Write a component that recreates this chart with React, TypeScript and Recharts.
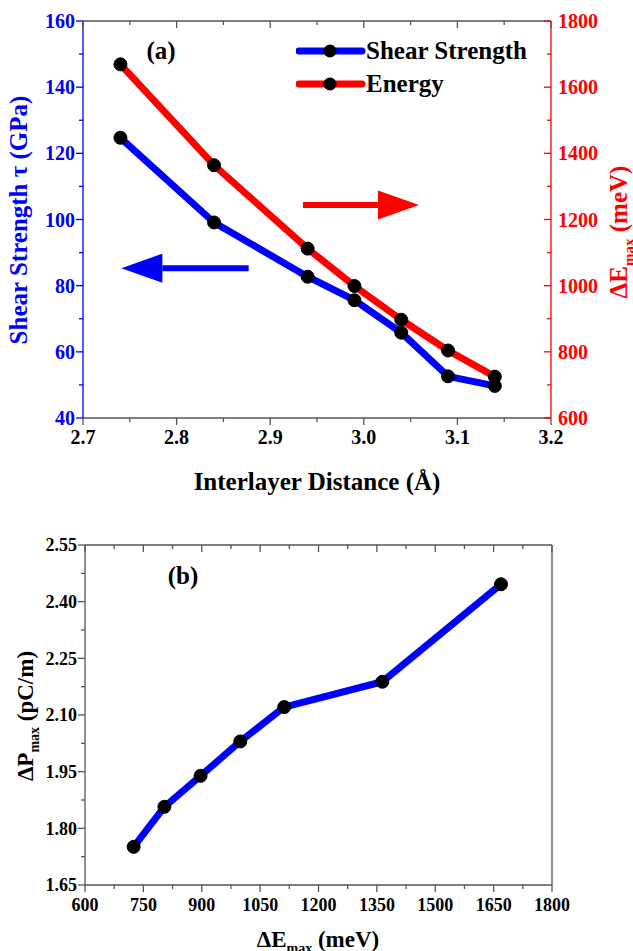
import React from 'react';
import { LineChart, Line, XAxis, YAxis, ReferenceLine, Legend } from 'recharts';

// (a) interlayer distance vs shear strength / energy barrier
const distance = [2.74, 2.84, 2.94, 2.99, 3.04, 3.09, 3.14];
const shearStrength = [124.7, 99.1, 82.7, 75.6, 65.8, 52.6, 49.7];
const energyMax = [1669, 1364, 1112, 999, 897, 804, 725];
// (b) polarization vs energy barrier (same order as energyMax)
const polarMax = [2.446, 2.188, 2.121, 2.03, 1.939, 1.857, 1.751];

const distTicks = [2.7, 2.8, 2.9, 3.0, 3.1, 3.2];
const distMinor = [2.75, 2.85, 2.95, 3.05, 3.15];
const shearTicks = [40, 60, 80, 100, 120, 140, 160];
const shearMinor = [50, 70, 90, 110, 130, 150];
const energyTicks = [600, 800, 1000, 1200, 1400, 1600, 1800];
const energyMinor = [700, 900, 1100, 1300, 1500, 1700];
const eTicksB = [600, 750, 900, 1050, 1200, 1350, 1500, 1650, 1800];
const eMinorB = [675, 825, 975, 1125, 1275, 1425, 1575, 1725];
const pTicks = [1.65, 1.8, 1.95, 2.1, 2.25, 2.4, 2.55];
const pMinor = [1.725, 1.875, 2.025, 2.175, 2.325, 2.475];
const legendOrder = ['Shear Strength', 'Energy'];

const FONT = '"Liberation Serif", "Times New Roman", serif';
const BLUE = '#0000ff';
const RED = '#ff0000';
const GREY = '#555555';

const topData = distance.map((d, i) => ({ d, tau: shearStrength[i], e: energyMax[i] }));
const bottomData = energyMax.map((e, i) => ({ e, p: polarMax[i] }));

type Side = 'bottom' | 'top' | 'left' | 'right';
interface TickOpt {
  side: Side;
  inward: boolean;
  majors: number[];
  color: string;
  lineColor: string;
  size?: number;
  fmt?: (v: number) => string;
}

// draws major/minor tick marks by hand (recharts has no minor ticks)
const makeTick = (o: TickOpt) => (props: any) => {
  const { x, y, payload } = props;
  const v = payload.value;
  const major = o.majors.some(m => Math.abs(m - v) < 1e-9);
  const len = major ? 7 : 4;
  let dx = 0;
  let dy = 0;
  if (o.side === 'bottom') dy = o.inward ? -len : len;
  if (o.side === 'top') dy = o.inward ? len : -len;
  if (o.side === 'left') dx = o.inward ? len : -len;
  if (o.side === 'right') dx = o.inward ? -len : len;
  const textStyle = { fontFamily: FONT, fontWeight: 'bold' as const, fontSize: o.size || 18, fill: o.color };
  let label = null;
  if (o.fmt && major) {
    if (o.side === 'bottom') {
      label = <text x={x} y={y + 26} textAnchor="middle" style={textStyle}>{o.fmt(v)}</text>;
    } else if (o.side === 'left') {
      label = <text x={x - 8} y={y} dy="0.35em" textAnchor="end" style={textStyle}>{o.fmt(v)}</text>;
    } else if (o.side === 'right') {
      label = <text x={x + 7} y={y} dy="0.35em" textAnchor="start" style={textStyle}>{o.fmt(v)}</text>;
    }
  }
  return (
    <g>
      <line x1={x} y1={y} x2={x + dx} y2={y + dy} stroke={o.lineColor} strokeWidth={1.3} />
      {label}
    </g>
  );
};

// axis title at a fixed spot (px/py so recharts' own x/y don't override)
const Title = ({ px, py, rotate, color, size, children }: any) => (
  <text
    x={px}
    y={py}
    textAnchor="middle"
    dy="0.35em"
    transform={rotate ? `rotate(-90 ${px} ${py})` : undefined}
    style={{ fontFamily: FONT, fontWeight: 'bold', fontSize: size || 25, fill: color }}
  >
    {children}
  </text>
);

const Arrow = (color: string) => (props: any) => {
  const { x1, y1, x2, y2 } = props;
  const dir = x2 > x1 ? 1 : -1;
  const head = 41;
  return (
    <g>
      <line x1={x1} y1={y1} x2={x2 - dir * head} y2={y2} stroke={color} strokeWidth={6} />
      <polygon points={`${x2},${y2} ${x2 - dir * head},${y2 - 14.5} ${x2 - dir * head},${y2 + 14.5}`} fill={color} />
    </g>
  );
};

const LegendBox = ({ payload }: any) => {
  const items = [...(payload || [])].sort(
    (a: any, b: any) => legendOrder.indexOf(a.value) - legendOrder.indexOf(b.value)
  );
  return (
    <div style={{ fontFamily: FONT, fontWeight: 'bold', fontSize: 25, color: '#000' }}>
      {items.map((p: any) => (
        <div key={p.value} style={{ display: 'flex', alignItems: 'center', height: 33 }}>
          <svg width={70} height={20} style={{ display: 'block' }}>
            <line x1={3} x2={66} y1={10} y2={10} stroke={p.color} strokeWidth={7} strokeLinecap="round" />
            <circle cx={34} cy={10} r={6.5} fill="#000" />
          </svg>
          <span style={{ lineHeight: '33px', whiteSpace: 'nowrap' }}>{p.value}</span>
        </div>
      ))}
    </div>
  );
};

const dot = { r: 6.5, fill: '#000', stroke: '#000', strokeWidth: 1 };

export default function App() {
  return (
    <div style={{ position: 'absolute', left: 0, top: 0, width: 633, height: 951, background: '#fff', overflow: 'hidden' }}>
      <div style={{ position: 'absolute', left: 0, top: 0 }}>
        <LineChart width={633} height={500} data={topData} margin={{ top: 20, right: 0, bottom: 0, left: 0 }}>
          <XAxis
            xAxisId="b"
            dataKey="d"
            type="number"
            domain={[2.7, 3.2]}
            ticks={[...distTicks, ...distMinor]}
            interval={0}
            height={82}
            tickSize={0}
            tickMargin={0}
            tickLine={false}
            axisLine={{ stroke: GREY, strokeWidth: 1.3 }}
            tick={makeTick({ side: 'bottom', inward: false, majors: distTicks, color: '#000', lineColor: GREY, size: 20, fmt: v => v.toFixed(1) })}
            label={<Title px={317} py={481} color="#000">Interlayer Distance (Å)</Title>}
          />
          <XAxis
            xAxisId="t"
            orientation="top"
            dataKey="d"
            type="number"
            domain={[2.7, 3.2]}
            ticks={[...distTicks, ...distMinor]}
            interval={0}
            height={1}
            tickSize={0}
            tickMargin={0}
            tickLine={false}
            axisLine={{ stroke: GREY, strokeWidth: 1.3 }}
            tick={makeTick({ side: 'top', inward: true, majors: distTicks, color: '#000', lineColor: GREY })}
          />
          <YAxis
            yAxisId="tau"
            type="number"
            domain={[40, 160]}
            ticks={[...shearTicks, ...shearMinor]}
            interval={0}
            width={83}
            tickSize={0}
            tickMargin={0}
            tickLine={false}
            axisLine={{ stroke: BLUE, strokeWidth: 1.3 }}
            tick={makeTick({ side: 'left', inward: false, majors: shearTicks, color: BLUE, lineColor: BLUE, size: 20, fmt: v => String(v) })}
            label={<Title px={18} py={220} rotate color={BLUE}>Shear Strength τ (GPa)</Title>}
          />
          <YAxis
            yAxisId="e"
            orientation="right"
            type="number"
            domain={[600, 1800]}
            ticks={[...energyTicks, ...energyMinor]}
            interval={0}
            width={82}
            tickSize={0}
            tickMargin={0}
            tickLine={false}
            axisLine={{ stroke: RED, strokeWidth: 1.3 }}
            tick={makeTick({ side: 'right', inward: true, majors: energyTicks, color: RED, lineColor: RED, size: 20, fmt: v => String(v) })}
            label={
              <Title px={618} py={232} rotate color={RED}>
                <tspan>ΔE</tspan>
                <tspan dy={7} fontSize={15}>max</tspan>
                <tspan dy={-7}> (meV)</tspan>
              </Title>
            }
          />
          <Legend
            layout="horizontal"
            verticalAlign="middle"
            align="center"
            content={<LegendBox />}
            wrapperStyle={{ left: 296, top: 34, width: 300, height: 66 }}
          />
          <ReferenceLine
            xAxisId="b"
            yAxisId="tau"
            segment={[{ x: 2.877, y: 85.3 }, { x: 2.741, y: 85.3 }]}
            ifOverflow="visible"
            shape={Arrow(BLUE)}
          />
          <ReferenceLine
            xAxisId="b"
            yAxisId="e"
            segment={[{ x: 2.935, y: 1244 }, { x: 3.059, y: 1244 }]}
            ifOverflow="visible"
            shape={Arrow(RED)}
          />
          <Line
            xAxisId="b"
            yAxisId="tau"
            dataKey="tau"
            name="Shear Strength"
            stroke={BLUE}
            strokeWidth={7}
            strokeLinejoin="round"
            dot={dot}
            activeDot={false}
            isAnimationActive={false}
          />
          <Line
            xAxisId="b"
            yAxisId="e"
            dataKey="e"
            name="Energy"
            stroke={RED}
            strokeWidth={7}
            strokeLinejoin="round"
            dot={dot}
            activeDot={false}
            isAnimationActive={false}
          />
          <text x={161} y={50} dy="0.35em" textAnchor="middle" style={{ fontFamily: FONT, fontWeight: 'bold', fontSize: 25 }}>(a)</text>
        </LineChart>
      </div>

      <div style={{ position: 'absolute', left: 0, top: 500 }}>
        <LineChart width={633} height={451} data={bottomData} margin={{ top: 44, right: 80, bottom: 0, left: 0 }}>
          <XAxis
            xAxisId="b"
            dataKey="e"
            type="number"
            domain={[600, 1800]}
            ticks={[...eTicksB, ...eMinorB]}
            interval={0}
            height={66}
            tickSize={0}
            tickMargin={0}
            tickLine={false}
            axisLine={{ stroke: GREY, strokeWidth: 1.3 }}
            tick={makeTick({ side: 'bottom', inward: false, majors: eTicksB, color: '#000', lineColor: GREY, fmt: v => String(v) })}
            label={
              <Title px={318} py={439} size={23} color="#000">
                <tspan>ΔE</tspan>
                <tspan dy={6} fontSize={14}>max</tspan>
                <tspan dy={-6}> (meV)</tspan>
              </Title>
            }
          />
          <XAxis
            xAxisId="t"
            orientation="top"
            dataKey="e"
            type="number"
            domain={[600, 1800]}
            ticks={[...eTicksB, ...eMinorB]}
            interval={0}
            height={1}
            tickSize={0}
            tickMargin={0}
            tickLine={false}
            axisLine={{ stroke: GREY, strokeWidth: 1.3 }}
            tick={makeTick({ side: 'top', inward: true, majors: eTicksB, color: '#000', lineColor: GREY })}
          />
          <YAxis
            yAxisId="l"
            type="number"
            domain={[1.65, 2.55]}
            ticks={[...pTicks, ...pMinor]}
            interval={0}
            width={85}
            tickSize={0}
            tickMargin={0}
            tickLine={false}
            axisLine={{ stroke: GREY, strokeWidth: 1.3 }}
            tick={makeTick({ side: 'left', inward: false, majors: pTicks, color: '#000', lineColor: GREY, fmt: v => v.toFixed(2) })}
            label={
              <Title px={25} py={216} size={23} rotate color="#000">
                <tspan>ΔP</tspan>
                <tspan dy={6} fontSize={14}>max</tspan>
                <tspan dy={-6}> (pC/m)</tspan>
              </Title>
            }
          />
          <YAxis
            yAxisId="r"
            orientation="right"
            type="number"
            domain={[1.65, 2.55]}
            ticks={[...pTicks, ...pMinor]}
            interval={0}
            width={1}
            tickSize={0}
            tickMargin={0}
            tickLine={false}
            axisLine={{ stroke: GREY, strokeWidth: 1.3 }}
            tick={makeTick({ side: 'right', inward: true, majors: pTicks, color: '#000', lineColor: GREY })}
          />
          <Line
            xAxisId="b"
            yAxisId="l"
            dataKey="p"
            stroke={BLUE}
            strokeWidth={7}
            strokeLinejoin="round"
            dot={dot}
            activeDot={false}
            isAnimationActive={false}
          />
          <text x={183} y={75} dy="0.35em" textAnchor="middle" style={{ fontFamily: FONT, fontWeight: 'bold', fontSize: 25 }}>(b)</text>
        </LineChart>
      </div>
    </div>
  );
}
